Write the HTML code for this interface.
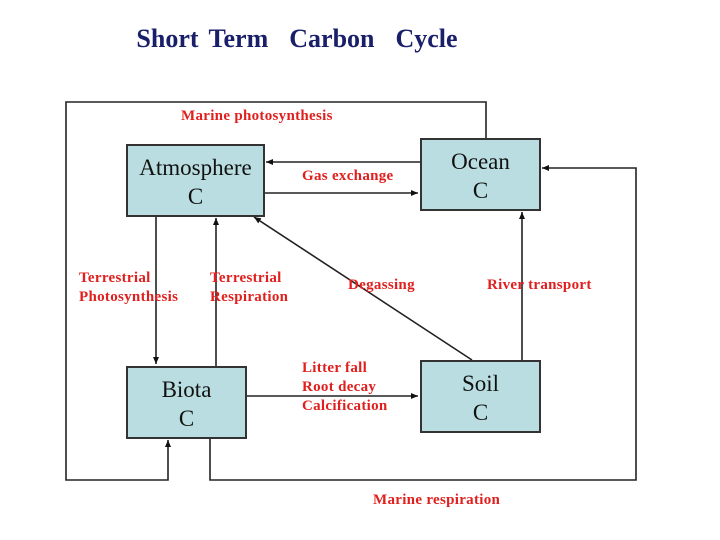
<!DOCTYPE html>
<html><head><style>
body{margin:0;width:720px;height:540px;background:#fff;overflow:hidden;position:relative;font-family:"Liberation Serif",serif}
.t{position:absolute;left:0;width:594px;top:24px;text-align:center;font-weight:bold;font-size:26px;color:#1a1f6a;word-spacing:4px}
.b{position:absolute;background:#b9dde0;border:2px solid #333;box-sizing:border-box;text-align:center;font-size:23px;color:#111;line-height:29px;padding-top:7px}
.l{position:absolute;color:#e0201e;font-weight:bold;font-size:15px;letter-spacing:0.3px;line-height:19px;white-space:nowrap}
</style></head><body>
<div class="t">Short Term &nbsp;Carbon &nbsp;Cycle</div>
<svg width="720" height="540" style="position:absolute;left:0;top:0">
<defs><marker id="a" markerWidth="8" markerHeight="8" refX="7" refY="4" orient="auto" markerUnits="userSpaceOnUse"><path d="M0,1 L7,4 L0,7z" fill="#111"/></marker></defs>
<g stroke="#222" stroke-width="1.6" fill="none">
<polyline points="486,138 486,102 66,102 66,480 168,480 168,440" marker-end="url(#a)"/>
<polyline points="210,438 210,480 636,480 636,168 542,168" marker-end="url(#a)"/>
<line x1="420" y1="162" x2="266" y2="162" marker-end="url(#a)"/>
<line x1="264" y1="193" x2="418" y2="193" marker-end="url(#a)"/>
<line x1="156" y1="216" x2="156" y2="364" marker-end="url(#a)"/>
<line x1="216" y1="366" x2="216" y2="218" marker-end="url(#a)"/>
<line x1="472" y1="360" x2="254" y2="217" marker-end="url(#a)"/>
<line x1="522" y1="360" x2="522" y2="212" marker-end="url(#a)"/>
<line x1="246" y1="396" x2="418" y2="396" marker-end="url(#a)"/>
</g></svg>
<div class="b" style="left:126px;top:144px;width:139px;height:73px">Atmosphere<br>C</div>
<div class="b" style="left:420px;top:138px;width:121px;height:73px">Ocean<br>C</div>
<div class="b" style="left:126px;top:366px;width:121px;height:73px">Biota<br>C</div>
<div class="b" style="left:420px;top:360px;width:121px;height:73px">Soil<br>C</div>
<div class="l" style="left:181px;top:107px">Marine photosynthesis</div>
<div class="l" style="left:302px;top:167px">Gas exchange</div>
<div class="l" style="left:79px;top:269px">Terrestrial<br>Photosynthesis</div>
<div class="l" style="left:210px;top:269px">Terrestrial<br>Respiration</div>
<div class="l" style="left:348px;top:276px">Degassing</div>
<div class="l" style="left:487px;top:276px">River transport</div>
<div class="l" style="left:302px;top:359px">Litter fall<br>Root decay<br>Calcification</div>
<div class="l" style="left:373px;top:491px">Marine respiration</div>
</body></html>
